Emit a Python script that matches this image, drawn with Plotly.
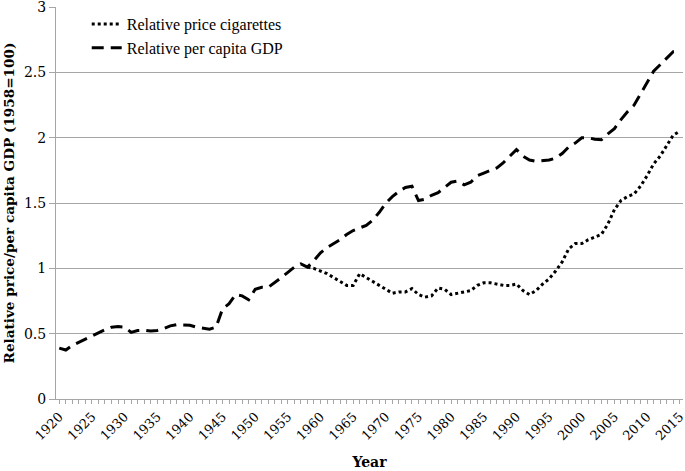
import plotly.graph_objects as go

years = list(range(1920, 2016))

gdp = [0.39, 0.375, 0.41, 0.435, 0.46, 0.48, 0.51, 0.53, 0.55, 0.555,
       0.55, 0.51, 0.525, 0.527, 0.52, 0.525, 0.54, 0.56, 0.57, 0.57,
       0.565, 0.55, 0.54, 0.535, 0.55, 0.69, 0.73, 0.80, 0.79, 0.76,
       0.84, 0.855, 0.855, 0.89, 0.93, 0.97, 1.01, 1.035, 1.01, 1.06,
       1.12, 1.16, 1.19, 1.22, 1.26, 1.29, 1.31, 1.33, 1.37, 1.43,
       1.50, 1.55, 1.59, 1.62, 1.63, 1.52, 1.53, 1.56, 1.58, 1.62,
       1.66, 1.67, 1.64, 1.66, 1.71, 1.73, 1.75, 1.77, 1.81, 1.86,
       1.91, 1.86, 1.83, 1.82, 1.825, 1.83, 1.845, 1.88, 1.93, 1.96,
       2.0, 2.0, 1.99, 1.985, 2.03, 2.07, 2.14, 2.20, 2.25, 2.34,
       2.43, 2.51, 2.56, 2.61, 2.66, 2.66]

cig_years = list(range(1958, 2016))
cigarettes = [1.01, 1.0, 0.98, 0.96, 0.93, 0.90, 0.87, 0.87, 0.96, 0.93,
              0.90, 0.87, 0.84, 0.81, 0.82, 0.82, 0.845, 0.80, 0.78, 0.79,
              0.85, 0.84, 0.80, 0.81, 0.82, 0.83, 0.87, 0.89, 0.89, 0.88,
              0.87, 0.87, 0.88, 0.83, 0.80, 0.83, 0.88, 0.92, 0.98, 1.05,
              1.15, 1.19, 1.19, 1.22, 1.24, 1.26, 1.34, 1.45, 1.52, 1.55,
              1.57, 1.63, 1.71, 1.80, 1.86, 1.94, 2.02, 2.05]

FONT = "DejaVu Serif"
LEGFONT = "Liberation Serif"
GRID = "#a6a6a6"

fig = go.Figure()
fig.add_trace(go.Scatter(x=cig_years, y=cigarettes, mode="lines",
                         name="Relative price cigarettes",
                         line=dict(color="black", width=3, dash="3px,3px")))
fig.add_trace(go.Scatter(x=years, y=gdp, mode="lines",
                         name="Relative per capita GDP",
                         line=dict(color="black", width=3, dash="12px,7px")))

fig.update_layout(
    width=685, height=471,
    margin=dict(l=56, r=2, t=7, b=72),
    paper_bgcolor="white", plot_bgcolor="white",
    font=dict(family=FONT, size=13, color="black"),
    showlegend=True,
    legend=dict(x=0.049, y=1.0, xanchor="left", yanchor="top",
                bgcolor="rgba(0,0,0,0)", font=dict(family=LEGFONT, size=16),
                tracegroupgap=0),
    xaxis=dict(range=[1919.5, 2015.5], tick0=1920, dtick=5, automargin=False,
               tickangle=-45, ticks="outside", ticklen=4, tickcolor=GRID,
               minor=dict(dtick=1, tick0=1920, ticks="outside", ticklen=4, tickcolor=GRID),
               showgrid=False, zeroline=False, showline=True, linecolor=GRID,
               ticklabeloverflow="allow",
               tickfont=dict(family=FONT, size=13),
               title=dict(text="<b>Year</b>", font=dict(family=FONT, size=14), standoff=14)),
    yaxis=dict(range=[0, 3.002], tick0=0, dtick=0.5, showgrid=True, gridcolor=GRID, gridwidth=1.3,
               zeroline=False, showline=True, linecolor=GRID, automargin=False,
               ticks="outside", ticklen=6, tickcolor=GRID,
               ticklabeloverflow="allow",
               tickfont=dict(family=FONT, size=14),
               title=dict(text="<b>Relative price/per capita GDP (1958=100)</b>",
                          font=dict(family=FONT, size=13.6), standoff=6)),
)

fig.write_html("out.html")
